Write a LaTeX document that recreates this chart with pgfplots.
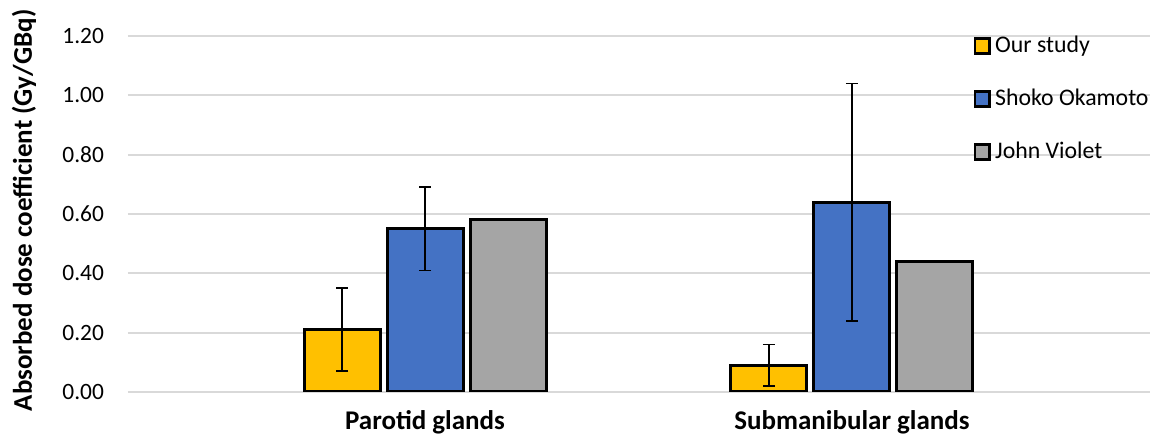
\documentclass[border=0pt]{standalone}
\usepackage{pgfplots}
\pgfplotsset{compat=1.18}
\usepackage{fontspec}
\setmainfont{Carlito}
\definecolor{cyellow}{HTML}{FFC000}
\definecolor{cblue}{HTML}{4472C4}
\definecolor{cgray}{HTML}{A5A5A5}
\definecolor{cgrid}{HTML}{D9D9D9}
\begin{document}
\fontsize{11.5}{13.8}\selectfont
\begin{tikzpicture}
\begin{axis}[
  at={(0,0)}, anchor=south west,
  scale only axis, width=511pt, height=178pt,
  xmin=-0.6956, xmax=1.698, ymin=0, ymax=1.2,
  ybar=3.5pt, bar width=38pt,
  xtick={0,1}, xticklabels={Parotid glands, Submanibular glands},
  xticklabel style={font=\fontsize{13.5}{16}\selectfont\bfseries, yshift=-5pt},
  ytick={0,0.2,...,1.2},
  yticklabel style={/pgf/number format/fixed, /pgf/number format/fixed zerofill, /pgf/number format/precision=2, font=\fontsize{11.7}{14}\selectfont},
  yticklabel shift=8pt,
  /pgf/number format/assume math mode=true,
  axis line style={draw=none},
  major tick length=0pt,
  ymajorgrids, major grid style={draw=cgrid, line width=1pt},
  ylabel={Absorbed dose coefficient (Gy/GBq)},
  ylabel style={font=\fontsize{13.5}{16}\selectfont\bfseries, at={(axis description cs:-0.1018,0.51)}, anchor=center},
  legend style={draw=none, fill=none, at={(rel axis cs:0.827,1.012)}, anchor=north west,
    font=\fontsize{11.9}{14.2}\selectfont, row sep=12.5pt, inner sep=0pt},
  legend cell align=left,
  legend image code/.code={\draw[#1, line width=1.4pt] (0pt,-3.6pt) rectangle (7.4pt,3.8pt);},
  error bars/y dir=both, error bars/y explicit,
  error bars/error bar style={black, line width=0.8pt},
  error bars/error mark options={rotate=90, mark size=3pt, line width=0.8pt, black},
]
\addplot[fill=cyellow, draw=black, line width=1.5pt] coordinates {(0,0.21) +- (0,0.14) (1,0.09) +- (0,0.07)};
\addplot[fill=cblue, draw=black, line width=1.5pt] coordinates {(0,0.55) +- (0,0.14) (1,0.64) +- (0,0.40)};
\addplot[fill=cgray, draw=black, line width=1.5pt, error bars/y dir=none] coordinates {(0,0.58) (1,0.44)};
\legend{Our study, Shoko Okamoto, John Violet}
\end{axis}
\pgfresetboundingbox
\path (-64pt,-23.5pt) rectangle (512pt,196pt);
\end{tikzpicture}
\end{document}
